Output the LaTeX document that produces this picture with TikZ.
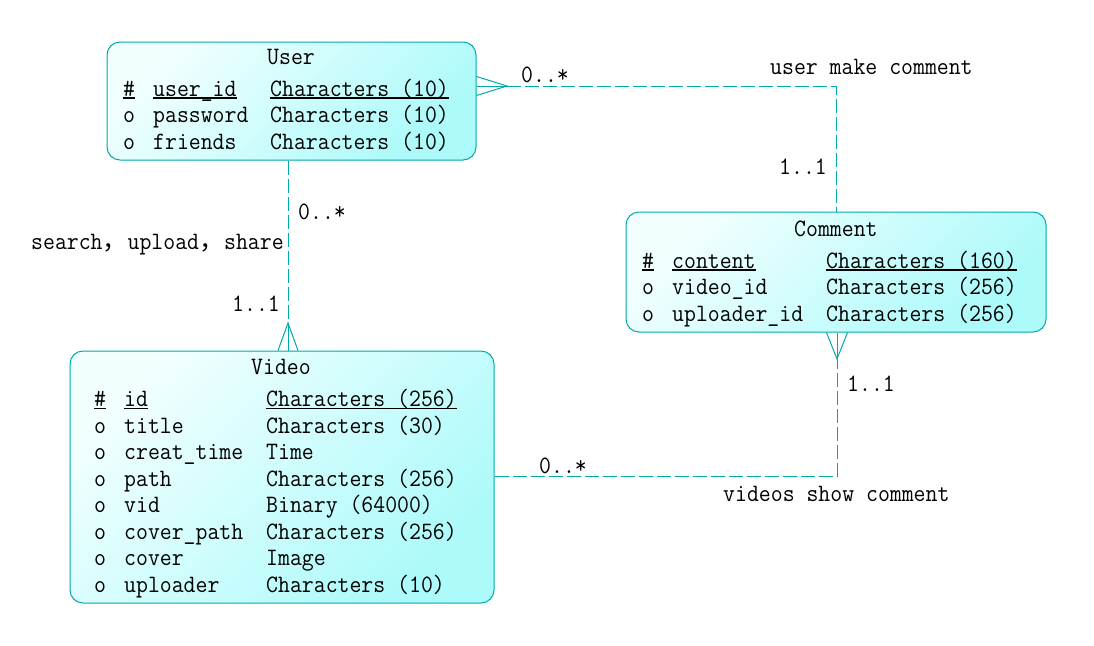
\documentclass[tikz,border=0pt]{standalone}
\usepackage{fontspec}
\newfontfamily\monof[FakeStretch=0.925]{Latin Modern Mono}
\newfontfamily\cjk{Noto Sans CJK SC}
\usetikzlibrary{calc}
\definecolor{teal1}{RGB}{0,170,170}
\definecolor{fillA}{RGB}{242,255,255}
\definecolor{fillB}{RGB}{172,250,250}
\begin{document}
\begin{tikzpicture}[x=1pt,y=-1pt,
  entity/.style={draw=teal1, line width=1pt, rounded corners=13pt, top color=fillA, bottom color=fillB, shading angle=45, inner sep=0pt},
  txt/.style={inner sep=0pt, anchor=base west, font=\monof\fontsize{25}{30}\selectfont, text=black},
  conn/.style={draw=teal1, line width=1pt, dash pattern=on 14pt off 4pt},
  foot/.style={draw=teal1, line width=1pt},
  ul/.style={draw=black, line width=1.1pt}]
\useasboundingbox (0,0) rectangle (1094,645);
\fill[white] (0,0) rectangle (1094,645);

% entities
\node[entity, minimum width=369pt, minimum height=118pt] (user) at (291.5,101) {};
\node[entity, minimum width=420pt, minimum height=120pt] (comment) at (836,272) {};
\node[entity, minimum width=424pt, minimum height=252pt] (video) at (282,477) {};

% User text
\node[txt] (uT) at (267,64) {User};
\node[txt] (u1a) at (123,96) {\#};
\node[txt] (u1b) at (153,96) {user\_id};
\node[txt] (u1c) at (270,96) {Characters (10)};
\node[txt] (u2a) at (123,122.5) {o};
\node[txt] (u2b) at (153,122.5) {password};
\node[txt] (u2c) at (270,122.5) {Characters (10)};
\node[txt] (u3a) at (123,149) {o};
\node[txt] (u3b) at (153,149) {friends};
\node[txt] (u3c) at (270,149) {Characters (10)};
\draw[ul] ([yshift=-2pt]u1a.base west) -- ([yshift=-2pt]u1a.base east);
\draw[ul] ([yshift=-2pt]u1b.base west) -- ([yshift=-2pt]u1b.base east);
\draw[ul] ([yshift=-2pt]u1c.base west) -- ([yshift=-2pt]u1c.base east);

% Comment text
\node[txt] (cT) at (794,236.5) {Comment};
\node[txt] (c1a) at (642,268) {\#};
\node[txt] (c1b) at (672,268) {content};
\node[txt] (c1c) at (826,268) {Characters (160)};
\node[txt] (c2a) at (642,294.5) {o};
\node[txt] (c2b) at (672,294.5) {video\_id};
\node[txt] (c2c) at (826,294.5) {Characters (256)};
\node[txt] (c3a) at (642,321) {o};
\node[txt] (c3b) at (672,321) {uploader\_id};
\node[txt] (c3c) at (826,321) {Characters (256)};
\draw[ul] ([yshift=-2pt]c1a.base west) -- ([yshift=-2pt]c1a.base east);
\draw[ul] ([yshift=-2pt]c1b.base west) -- ([yshift=-2pt]c1b.base east);
\draw[ul] ([yshift=-2pt]c1c.base west) -- ([yshift=-2pt]c1c.base east);

% Video text
\node[txt] (vT) at (251,374.5) {Video};
\node[txt] (v1a) at (94,406.5) {\#};
\node[txt] (v1b) at (124,406.5) {id};
\node[txt] (v1c) at (266,406.5) {Characters (256)};
\node[txt] (v2a) at (94,433.1) {o};
\node[txt] (v2b) at (124,433.1) {title};
\node[txt] (v2c) at (266,433.1) {Characters (30)};
\node[txt] (v3a) at (94,459.6) {o};
\node[txt] (v3b) at (124,459.6) {creat\_time};
\node[txt] (v3c) at (266,459.6) {Time};
\node[txt] (v4a) at (94,486.2) {o};
\node[txt] (v4b) at (124,486.2) {path};
\node[txt] (v4c) at (266,486.2) {Characters (256)};
\node[txt] (v5a) at (94,512.8) {o};
\node[txt] (v5b) at (124,512.8) {vid};
\node[txt] (v5c) at (266,512.8) {Binary (64000)};
\node[txt] (v6a) at (94,539.3) {o};
\node[txt] (v6b) at (124,539.3) {cover\_path};
\node[txt] (v6c) at (266,539.3) {Characters (256)};
\node[txt] (v7a) at (94,565.9) {o};
\node[txt] (v7b) at (124,565.9) {cover};
\node[txt] (v7c) at (266,565.9) {Image};
\node[txt] (v8a) at (94,592.5) {o};
\node[txt] (v8b) at (124,592.5) {uploader};
\node[txt] (v8c) at (266,592.5) {Characters (10)};
\draw[ul] ([yshift=-2pt]v1a.base west) -- ([yshift=-2pt]v1a.base east);
\draw[ul] ([yshift=-2pt]v1b.base west) -- ([yshift=-2pt]v1b.base east);
\draw[ul] ([yshift=-2pt]v1c.base west) -- ([yshift=-2pt]v1c.base east);

% User -- Comment
\coordinate (ucf) at (507,86);
\coordinate (ucb) at (836,86);
\draw[foot] (user.east |- ucf) -- (ucf);
\draw[foot] ($(user.east |- ucf)+(0,-9.5)$) -- (ucf) -- ($(user.east |- ucf)+(0,9.5)$);
\draw[conn] (ucf) -- (ucb) -- (comment.north);

% User -- Video
\coordinate (uvf) at (288,323);
\draw[conn] (user.south -| uvf) -- (uvf);
\draw[foot] (uvf) -- (video.north -| uvf);
\draw[foot] ($(video.north -| uvf)+(-10,0)$) -- (uvf) -- ($(video.north -| uvf)+(10,0)$);

% Video -- Comment
\coordinate (vcf) at (837,359);
\coordinate (vcb) at (837,476);
\draw[conn] (video.east |- vcb) -- (vcb) -- (vcf);
\draw[foot] (vcf) -- (comment.south -| vcf);
\draw[foot] ($(comment.south -| vcf)+(-10.5,0)$) -- (vcf) -- ($(comment.south -| vcf)+(10.5,0)$);

% connector labels
\node[txt] (l1) at (521,82) {0..*};
\node[txt] (l2) at (770,74) {user make comment};
\node[txt] (l3) at (779,174) {1..1};
\node[txt] (l4) at (298,219) {0..*};
\node[txt] (l5) at (31,249) {search{\cjk ，}upload{\cjk ，}share};
\node[txt] (l6) at (232,311) {1..1};
\node[txt] (l7) at (539,473) {0..*};
\node[txt] (l8) at (723,501) {videos show comment};
\node[txt] (l9) at (847,391) {1..1};
\end{tikzpicture}
\end{document}
